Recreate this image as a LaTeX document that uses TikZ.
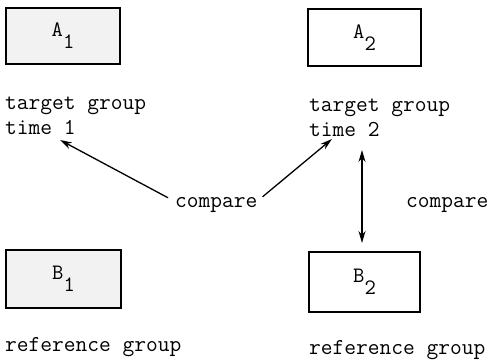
\documentclass[tikz,border=0pt]{standalone}
\usepackage{fontspec}
\usetikzlibrary{arrows.meta}
\newcommand{\lowsub}[1]{\raisebox{-12pt}{#1}}
\begin{document}
\begin{tikzpicture}[x=1pt,y=1pt,
  txt/.style={inner sep=0pt,font=\fontsize{22.8}{25}\selectfont\ttfamily,align=left},
  grpbox/.style={draw,line width=1.4pt,inner sep=0pt,font=\fontsize{22}{22}\selectfont\ttfamily},
  arr/.style={line width=1.3pt,-{Stealth[length=12pt,width=7pt]}},
  darr/.style={line width=1.3pt,{Stealth[length=12pt,width=7pt]}-{Stealth[length=12pt,width=7pt]}}]
\useasboundingbox (0,0) rectangle (488,362);
% boxes
\node[grpbox,fill=gray!10,minimum width=114pt,minimum height=56pt] (A1) at (63,326) {A\lowsub{1}};
\node[grpbox,minimum width=113pt,minimum height=57pt] (A2) at (364.5,324.5) {A\lowsub{2}};
\node[grpbox,fill=gray!10,minimum width=115pt,minimum height=58pt] (B1) at (63.5,83) {B\lowsub{1}};
\node[grpbox,minimum width=111pt,minimum height=60pt] (B2) at (364.5,80) {B\lowsub{2}};
% texts
\node[txt,anchor=base west] (tg1) at (5,227) {target group\\time 1};
\node[txt,anchor=base west] (tg2) at (309,225.5) {target group\\time 2};
\node[txt,anchor=base west] (cmp) at (175,154) {compare};
\node[txt,anchor=base west] (cmpr) at (406,154) {compare};
\node[txt,anchor=base west] (rg1) at (5,10) {reference group};
\node[txt,anchor=base west] (rg2) at (309,7) {reference group};
% arrow ends
\coordinate (c1) at ([shift={(-7,0)}]cmp.north west);
\coordinate (c2) at ([shift={(5,1)}]cmp.north east);
\coordinate (t1) at (60,222);
\coordinate (t2) at (332,223);
\coordinate (v1) at (362,212);
\coordinate (v2) at (362,119);
\draw[arr] (c1) -- (t1);
\draw[arr] (c2) -- (t2);
\draw[darr] (v1) -- (v2);
\end{tikzpicture}
\end{document}
